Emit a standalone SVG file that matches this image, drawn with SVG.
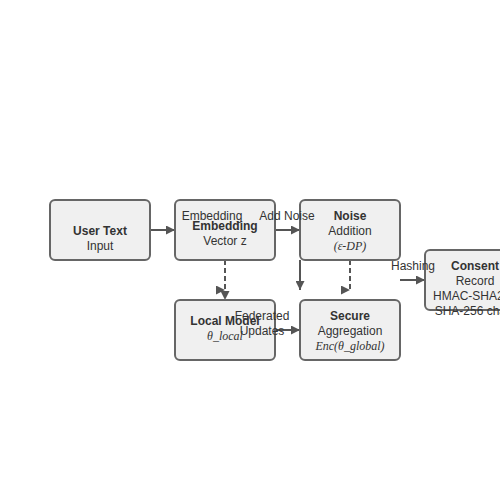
<svg xmlns="http://www.w3.org/2000/svg" width="500" height="500" viewBox="0 0 500 500">
<defs>
<style>
.box{fill:#f0f0f0;stroke:#666;stroke-width:2}
.t{font-family:"Liberation Sans",Arial,sans-serif;font-size:12px;fill:#333;text-anchor:middle}
.b{font-weight:bold}
.i{font-family:"Liberation Serif","Times New Roman",serif;font-style:italic}
.e{fill:none;stroke:#555;stroke-width:2}
.d{stroke-dasharray:5,3}
</style>
<marker id="a" viewBox="0 0 10 10" refX="10" refY="5" markerWidth="9" markerHeight="9" markerUnits="userSpaceOnUse" orient="auto"><path d="M0,0 L10,5 L0,10 Z" fill="#555"/></marker>
<marker id="ar" viewBox="0 0 10 10" refX="10" refY="5" markerWidth="9" markerHeight="9" markerUnits="userSpaceOnUse" orient="0"><path d="M0,0 L10,5 L0,10 Z" fill="#555"/></marker>
</defs>
<rect width="500" height="500" fill="#fff"/>
<g id="connectors">
<path class="e" d="M150,230 L175,230" marker-end="url(#a)"/>
<path class="e" d="M275,230 L300,230" marker-end="url(#a)"/>
<path class="e d" d="M225,260 L225,300" marker-end="url(#a)"/>
<path class="e d" d="M225,260 L225,290" marker-end="url(#ar)"/>
<path class="e" d="M300,260 L300,290" marker-end="url(#a)"/>
<path class="e d" d="M350,260 L350,290" marker-end="url(#ar)"/>
<path class="e" d="M400,280 L425,280" marker-end="url(#a)"/>
<path class="e" d="M275,330 L300,330" marker-end="url(#a)"/>
</g>
<g id="user-text"><rect class="box" x="50" y="200" width="100" height="60" rx="5"/><text class="t b" x="100" y="235">User Text</text><text class="t" x="100" y="250">Input</text></g>
<g id="embedding"><rect class="box" x="175" y="200" width="100" height="60" rx="5"/><text class="t b" x="225" y="230">Embedding</text><text class="t" x="225" y="245">Vector z</text></g>
<g id="noise"><rect class="box" x="300" y="200" width="100" height="60" rx="5"/><text class="t b" x="350" y="220">Noise</text><text class="t" x="350" y="235">Addition</text><text class="t i" x="350" y="250">(ε-DP)</text></g>
<g id="consent"><rect class="box" x="425" y="250" width="100" height="60" rx="5"/><text class="t b" x="475" y="270">Consent</text><text class="t" x="475" y="285">Record</text><text class="t" x="475" y="300">HMAC-SHA256</text><text class="t" x="475" y="315">SHA-256 chain</text></g>
<g id="local-model"><rect class="box" x="175" y="300" width="100" height="60" rx="5"/><text class="t b" x="225" y="325">Local Model</text><text class="t i" x="225" y="340">θ_local</text></g>
<g id="secure"><rect class="box" x="300" y="300" width="100" height="60" rx="5"/><text class="t b" x="350" y="320">Secure</text><text class="t" x="350" y="335">Aggregation</text><text class="t i" x="350" y="350">Enc(θ_global)</text></g>
<g id="edge-labels">
<text class="t" x="212" y="220">Embedding</text>
<text class="t" x="287" y="220">Add Noise</text>
<text class="t" x="413" y="270">Hashing</text>
<text class="t" x="262" y="320">Federated</text>
<text class="t" x="262" y="335">Updates</text>
</g>
</svg>
